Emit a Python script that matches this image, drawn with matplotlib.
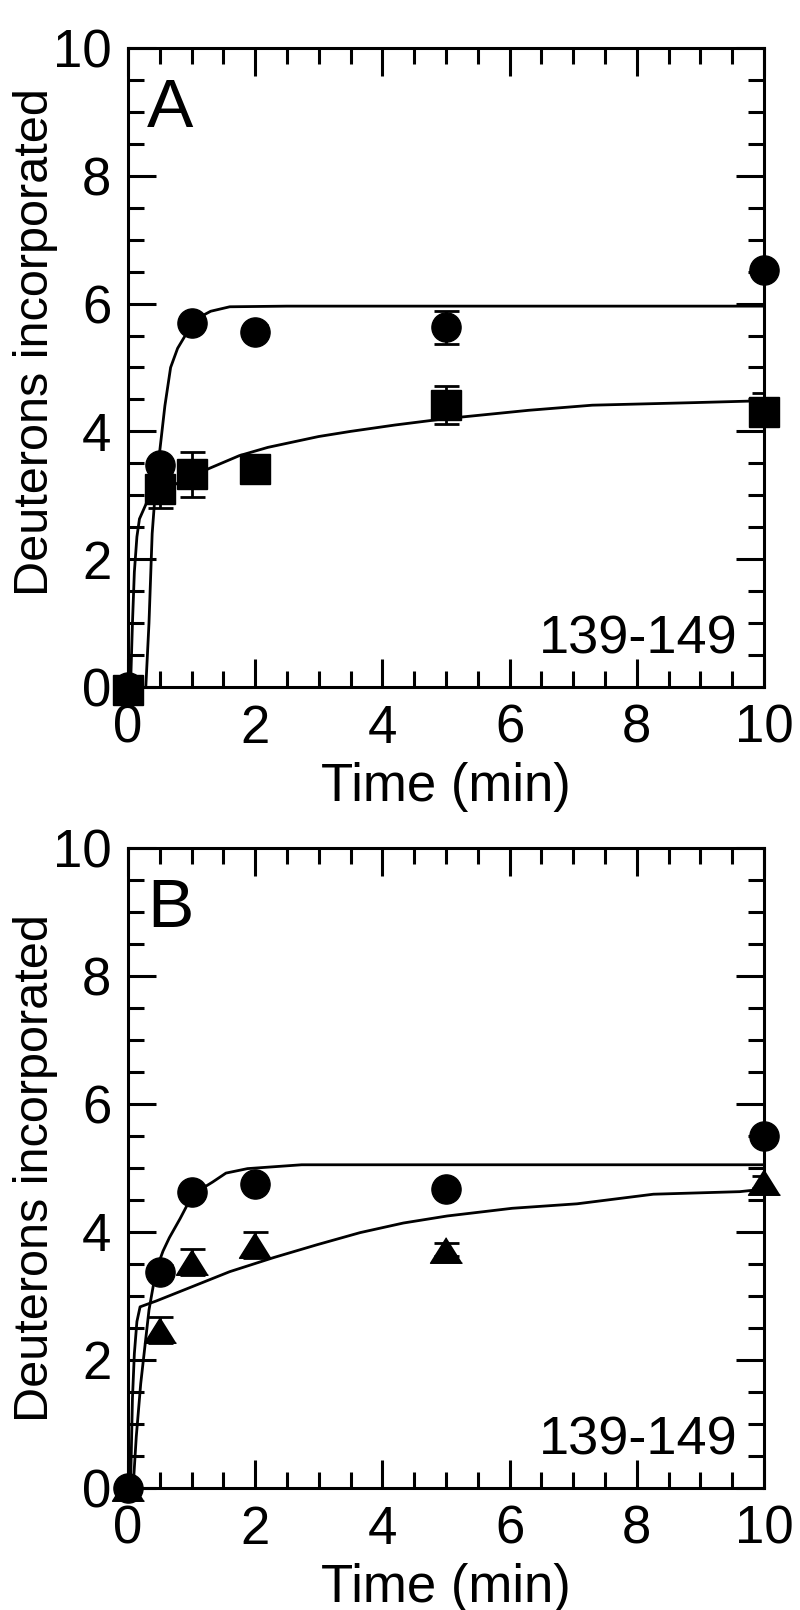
import numpy as np
import matplotlib
matplotlib.use('Agg')
from matplotlib import pyplot as plt
from matplotlib.ticker import MultipleLocator

plt.rcParams['font.family'] = ['Liberation Sans', 'DejaVu Sans']
plt.rcParams['font.size'] = 38

time = [0, 0.5, 1, 2, 5, 10]

# Panel A: circles and squares (mean, error)
a_circ = [0, 3.47, 5.7, 5.56, 5.63, 6.52]
a_circ_err = [0, 0.1, 0.1, 0.1, 0.26, 0.1]
a_sq = [-0.05, 3.1, 3.33, 3.41, 4.41, 4.3]
a_sq_err = [0, 0.3, 0.35, 0.1, 0.3, 0.3]

# Panel B: circles and triangles
b_circ = [0, 3.38, 4.63, 4.75, 4.67, 5.5]
b_circ_err = [0, 0.1, 0.1, 0.1, 0.1, 0.1]
b_tri = [0, 2.47, 3.53, 3.8, 3.72, 4.78]
b_tri_err = [0, 0.2, 0.2, 0.2, 0.1, 0.1]

# fitted curves
a_circ_fit_x = [0.28, 0.33, 0.38, 0.44, 0.5, 0.58, 0.67, 0.78, 0.9, 1.0, 1.15, 1.3, 1.6, 2.5, 10]
a_circ_fit_y = [0.0, 1.0, 2.4, 3.2, 3.7, 4.4, 5.0, 5.3, 5.5, 5.65, 5.8, 5.88, 5.95, 5.96, 5.96]
a_sq_fit_x = [0.04, 0.07, 0.1, 0.14, 0.18, 0.3, 0.5, 0.8, 1.0, 1.3, 1.75, 2.2, 3.0, 3.5, 4.2, 5.0, 5.4, 6.3, 7.3, 8.9, 10]
a_sq_fit_y = [0.0, 1.0, 1.8, 2.35, 2.63, 2.9, 3.05, 3.2, 3.3, 3.43, 3.62, 3.75, 3.92, 4.0, 4.1, 4.2, 4.24, 4.33, 4.41, 4.45, 4.48]

b_circ_fit_x = [0.08, 0.13, 0.2, 0.33, 0.44, 0.55, 0.65, 0.82, 1.02, 1.33, 1.54, 1.88, 2.73, 10]
b_circ_fit_y = [0.0, 0.8, 1.63, 2.78, 3.4, 3.7, 3.91, 4.21, 4.59, 4.78, 4.92, 4.99, 5.05, 5.05]
b_tri_fit_x = [0.04, 0.07, 0.1, 0.14, 0.19, 0.3, 0.44, 0.92, 1.6, 2.29, 2.97, 3.65, 4.33, 5.02, 6.04, 7.06, 8.26, 9.62, 10]
b_tri_fit_y = [0.0, 1.4, 2.1, 2.6, 2.83, 2.87, 2.92, 3.11, 3.38, 3.6, 3.8, 3.99, 4.14, 4.25, 4.37, 4.44, 4.59, 4.63, 4.67]

tri = [(0, 0.8), (-1, -0.8), (1, -0.8)]

fig = plt.figure(figsize=(8, 16.1), dpi=100)
axA = fig.add_axes([0.16, 0.5733, 0.795, 0.3969])
axB = fig.add_axes([0.16, 0.0758, 0.795, 0.3975])


def style(ax, letter, label_y):
    ax.set_xlim(0, 10)
    ax.set_ylim(0, 10)
    ax.xaxis.set_major_locator(MultipleLocator(2))
    ax.xaxis.set_minor_locator(MultipleLocator(0.5))
    ax.yaxis.set_major_locator(MultipleLocator(2))
    ax.yaxis.set_minor_locator(MultipleLocator(0.5))
    ax.tick_params(which='both', direction='in', top=True, right=True, width=2.2)
    ax.tick_params(which='major', length=20, pad=12, labelsize=38)
    ax.tick_params(which='minor', length=11.5)
    for s in ax.spines.values():
        s.set_linewidth(2.2)
    ax.set_xlabel('Time (min)', fontsize=38, labelpad=6)
    # the y label in the original is a narrow face
    ax.set_ylabel('Deuterons incorporated', fontsize=35,
                  family=['Liberation Sans Narrow', 'Liberation Sans', 'DejaVu Sans'])
    ax.yaxis.set_label_coords(-0.11, label_y)
    ax.text(0.03, 0.955, letter, transform=ax.transAxes, fontsize=50, ha='left', va='top')
    ax.text(0.958, 0.052, '139-149', transform=ax.transAxes, fontsize=39, ha='right', va='baseline')


# Panel A
axA.plot(a_circ_fit_x, a_circ_fit_y, color='black', lw=2)
axA.plot(a_sq_fit_x, a_sq_fit_y, color='black', lw=2)
axA.errorbar(time, a_circ, yerr=a_circ_err, fmt='none', ecolor='black', elinewidth=2, capsize=9, capthick=2)
axA.errorbar(time, a_sq, yerr=a_sq_err, fmt='none', ecolor='black', elinewidth=2, capsize=9, capthick=2)
axA.plot(time, a_circ, 'o', color='black', ms=21, clip_on=False, zorder=5)
axA.plot(time, a_sq, 's', color='black', ms=21, clip_on=False, zorder=5)
style(axA, 'A', 0.54)

# Panel B
axB.plot(b_circ_fit_x, b_circ_fit_y, color='black', lw=2)
axB.plot(b_tri_fit_x, b_tri_fit_y, color='black', lw=2)
axB.errorbar(time, b_circ, yerr=b_circ_err, fmt='none', ecolor='black', elinewidth=2, capsize=9, capthick=2)
axB.errorbar(time, b_tri, yerr=b_tri_err, fmt='none', ecolor='black', elinewidth=2, capsize=9, capthick=2)
axB.plot(time, b_circ, 'o', color='black', ms=21, clip_on=False, zorder=5)
axB.plot(time, b_tri, marker=tri, ls='none', color='black', ms=23, clip_on=False, zorder=5)
style(axB, 'B', 0.5)

plt.savefig('out.png', dpi=100)
